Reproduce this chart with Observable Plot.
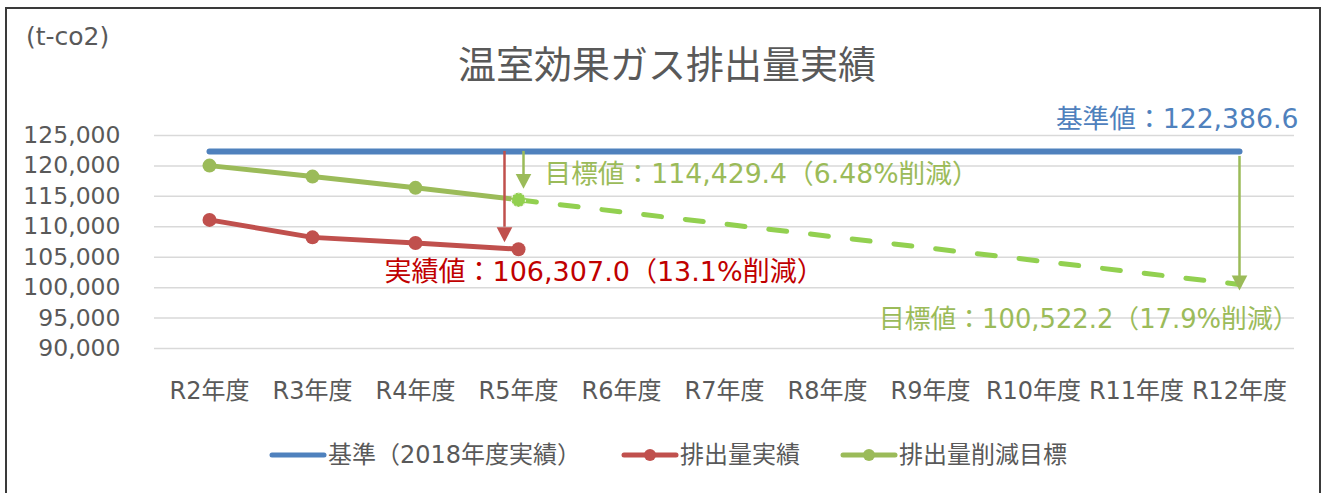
<!DOCTYPE html>
<html>
<head>
<meta charset="utf-8">
<script src="https://cdn.jsdelivr.net/npm/d3@7"></script>
<script src="https://cdn.jsdelivr.net/npm/@observablehq/plot@0.6"></script>
<style>
  html, body { margin: 0; padding: 0; background: #fff; }
  #wrap { position: relative; width: 1323px; height: 493px; overflow: hidden; background: #fff; }
  #frame { position: absolute; left: 5px; top: 7px; width: 1316px; height: 540px; box-sizing: border-box; border: 2px solid #3a3a3a; }
  #unit { position: absolute; left: 26px; top: 22px; font: 25px "DejaVu Sans", "Noto Sans CJK JP", sans-serif; color: #595959; line-height: 30px; }
  #title { position: absolute; left: 0; top: 38px; width: 1334px; text-align: center; font: 38px "Noto Sans CJK JP", sans-serif; color: #595959; line-height: 48px; }
  #chart { position: absolute; left: 0; top: 0; }
  #legend { position: absolute; left: 0; top: 440px; width: 1336px; display: flex; justify-content: center; gap: 40px; font: 24px "DejaVu Sans", "Noto Sans CJK JP", sans-serif; color: #595959; line-height: 30px; }
  .item { display: flex; align-items: center; gap: 1px; }
</style>
</head>
<body>
<div id="wrap">
  <div id="frame"></div>
  <div id="chart"></div>
  <div id="unit"></div>
  <div id="title"></div>
  <div id="legend"></div>
</div>
<script>
const chartTitle = "温室効果ガス排出量実績";
const unitLabel = "(t-co2)";
const categories = ["R2年度","R3年度","R4年度","R5年度","R6年度","R7年度","R8年度","R9年度","R10年度","R11年度","R12年度"];
const yTicks = [90000, 95000, 100000, 105000, 110000, 115000, 120000, 125000];
const baselineValue = 122386.6;
const actualYears = ["R2年度","R3年度","R4年度","R5年度"];
const actualValues = [111130, 108260, 107340, 106307.0];
const targetYears = ["R2年度","R3年度","R4年度","R5年度"];
const targetValues = [120050, 118250, 116400, 114429.4];
const planYears = ["R5年度","R12年度"];
const planValues = [114429.4, 100522.2];
const annotationTexts = ["基準値：122,386.6", "目標値：114,429.4（6.48%削減）", "実績値：106,307.0（13.1%削減）", "目標値：100,522.2（17.9%削減）"];
const legendLabels = ["基準（2018年度実績）", "排出量実績", "排出量削減目標"];
const legendColors = ["#4F81BD", "#C0504D", "#9BBB59"];
const legendMarkers = [false, true, true];

const BLUE = "#4F81BD", RED = "#C0504D", GREEN = "#9BBB59", LIGHTGREEN = "#92D050";

const baseData = categories.map(c => ({x: c, y: baselineValue}));
const actualData = actualYears.map((c, i) => ({x: c, y: actualValues[i]}));
const targetData = targetYears.map((c, i) => ({x: c, y: targetValues[i]}));
const planData = planYears.map((c, i) => ({x: c, y: planValues[i]}));

const lastCat = categories[categories.length - 1];
const r5 = actualYears[actualYears.length - 1];
const actualLast = actualValues[actualValues.length - 1];
const targetLast = targetValues[targetValues.length - 1];
const planLast = planValues[planValues.length - 1];

// downward triangle whose tip sits at the anchor point
const arrowHead = {
  draw(ctx, size) {
    const r = Math.sqrt(size / Math.PI);
    const w = r * 1.2, h = r * 2.3;
    ctx.moveTo(0, 0);
    ctx.lineTo(-w, -h);
    ctx.lineTo(w, -h);
    ctx.closePath();
  }
};

const fam = "'DejaVu Sans','Noto Sans CJK JP',sans-serif";

const chart = Plot.plot({
  width: 1323,
  height: 420,
  marginTop: 135,
  marginBottom: 72,
  marginLeft: 154,
  marginRight: 29,
  style: {fontFamily: fam, fontSize: "22px", color: "#595959", background: "transparent", overflow: "visible"},
  x: {type: "point", domain: categories, padding: 0.5, label: null},
  y: {domain: [90000, 125000], label: null},
  marks: [
    Plot.gridY(yTicks, {stroke: "#d9d9d9", strokeOpacity: 1, strokeWidth: 1.5}),
    Plot.axisY(yTicks, {tickSize: 0, tickPadding: 34, tickFormat: d3.format(","), fontSize: 23.5, label: null}),
    Plot.axisX({tickSize: 0, tickPadding: 33, fontSize: 24, label: null}),
    Plot.line(planData, {x: "x", y: "y", stroke: LIGHTGREEN, strokeWidth: 5, strokeDasharray: "18,24", strokeLinecap: "round"}),
    Plot.line(baseData, {x: "x", y: "y", stroke: BLUE, strokeWidth: 6, strokeLinecap: "round"}),
    Plot.line(targetData, {x: "x", y: "y", stroke: GREEN, strokeWidth: 5, strokeLinejoin: "round"}),
    Plot.dot(targetData, {x: "x", y: "y", r: 7, fill: GREEN}),
    Plot.dot([planData[0]], {x: "x", y: "y", r: 7, fill: LIGHTGREEN, stroke: "#e8f2d8", strokeWidth: 1.2, strokeDasharray: "2,2"}),
    Plot.line(actualData, {x: "x", y: "y", stroke: RED, strokeWidth: 5, strokeLinejoin: "round"}),
    Plot.dot(actualData, {x: "x", y: "y", r: 7, fill: RED}),
    // arrows
    Plot.ruleX([r5], {x: d => d, y1: baselineValue, y2: actualLast, dx: -14, insetBottom: 22, stroke: RED, strokeWidth: 2.5}),
    Plot.dot([r5], {x: d => d, y: actualLast, dx: -14, dy: -7, r: 6.5, symbol: arrowHead, fill: RED}),
    Plot.ruleX([r5], {x: d => d, y1: baselineValue, y2: targetLast, dx: 5, insetBottom: 25, stroke: GREEN, strokeWidth: 2.5}),
    Plot.dot([r5], {x: d => d, y: targetLast, dx: 5, dy: -11, r: 6.5, symbol: arrowHead, fill: GREEN}),
    Plot.ruleX([lastCat], {x: d => d, y1: baselineValue, y2: planLast, insetTop: 5, insetBottom: 8, stroke: GREEN, strokeWidth: 2.5}),
    Plot.dot([lastCat], {x: d => d, y: planLast, dy: 6, r: 6.5, symbol: arrowHead, fill: GREEN}),
    // annotations
    Plot.text([annotationTexts[0]], {x: () => lastCat, y: () => baselineValue, text: d => d, textAnchor: "end", dx: 59, dy: -32, fontSize: 26.7, fill: BLUE}),
    Plot.text([annotationTexts[1]], {x: () => r5, y: () => targetLast, text: d => d, textAnchor: "start", dx: 26, dy: -25, fontSize: 26.7, fill: GREEN}),
    Plot.text([annotationTexts[2]], {x: () => r5, y: () => actualLast, text: d => d, textAnchor: "start", dx: -134, dy: 23, fontSize: 27, fill: "#C00000"}),
    Plot.text([annotationTexts[3]], {x: () => lastCat, y: () => planLast, text: d => d, textAnchor: "end", dx: 59, dy: 35, fontSize: 25.8, fill: GREEN})
  ]
});
document.getElementById("chart").appendChild(chart);
document.getElementById("title").textContent = chartTitle;
document.getElementById("unit").textContent = unitLabel;

const legend = document.getElementById("legend");
legendLabels.forEach((label, i) => {
  const item = document.createElement("div");
  item.className = "item";
  const ns = "http://www.w3.org/2000/svg";
  const svg = document.createElementNS(ns, "svg");
  svg.setAttribute("width", 58); svg.setAttribute("height", 16);
  const line = document.createElementNS(ns, "line");
  line.setAttribute("x1", 3); line.setAttribute("x2", 55); line.setAttribute("y1", 8); line.setAttribute("y2", 8);
  line.setAttribute("stroke", legendColors[i]); line.setAttribute("stroke-width", 5); line.setAttribute("stroke-linecap", "round");
  svg.appendChild(line);
  if (legendMarkers[i]) {
    const c = document.createElementNS(ns, "circle");
    c.setAttribute("cx", 29); c.setAttribute("cy", 8); c.setAttribute("r", 6); c.setAttribute("fill", legendColors[i]);
    svg.appendChild(c);
  }
  const span = document.createElement("span");
  span.textContent = label;
  item.appendChild(svg); item.appendChild(span);
  legend.appendChild(item);
});
</script>
</body>
</html>
